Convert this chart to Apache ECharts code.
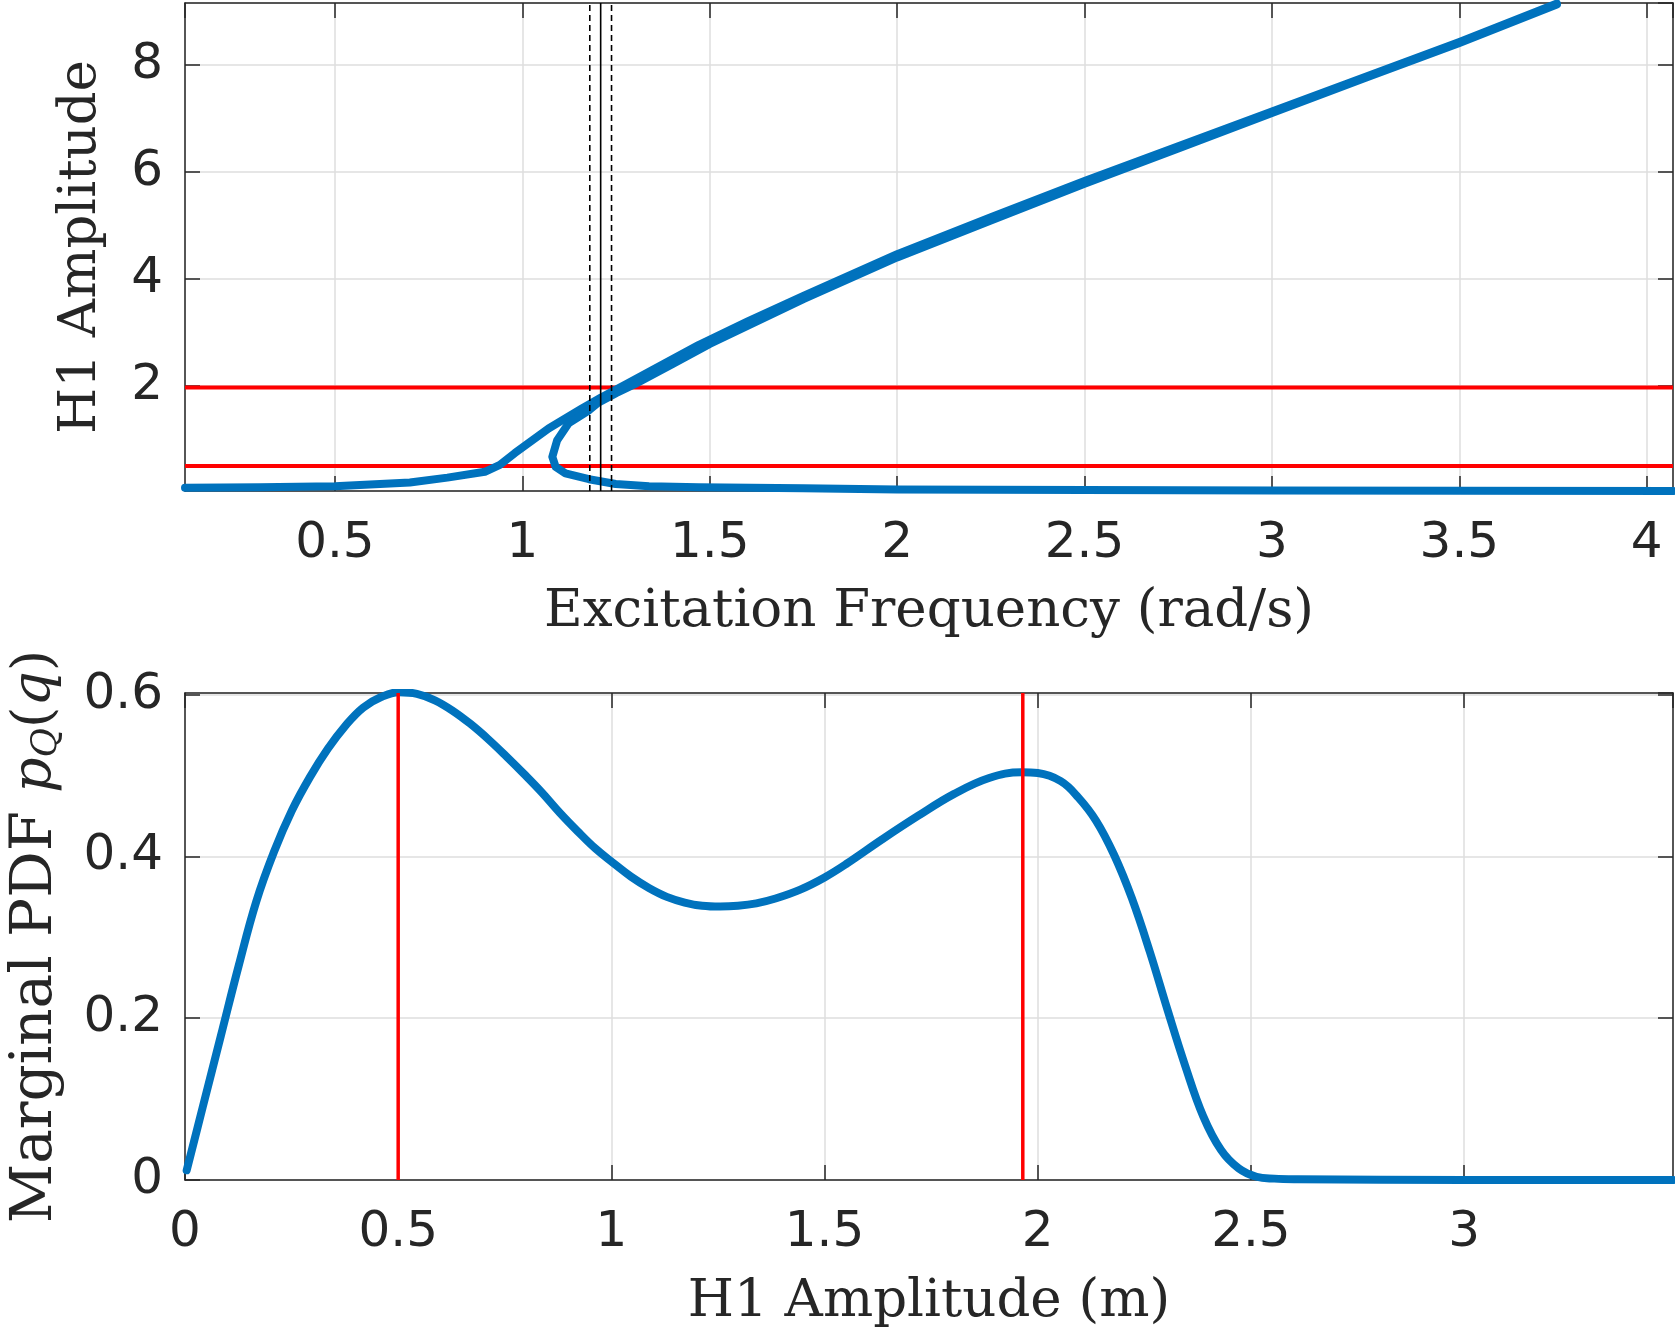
<!DOCTYPE html>
<html>
<head>
<meta charset="utf-8">
<script src="https://cdn.jsdelivr.net/npm/echarts@6/dist/echarts.min.js"></script>
<style>
html,body{margin:0;padding:0;background:#fff;}
#chart{width:1675px;height:1333px;}
</style>
</head>
<body>
<div id="chart"></div>
<script>
// ---- Top panel: frequency response (H1 amplitude vs excitation frequency)
const upperFreq = [0.10, 0.30, 0.50, 0.70, 0.80, 0.90, 0.94, 0.98, 1.07, 1.16, 1.21, 1.28, 1.38, 1.47, 1.60, 1.75, 2.00, 2.25, 2.50, 2.75, 3.00, 3.25, 3.50, 3.76];
const upperAmp  = [0.09, 0.10, 0.12, 0.19, 0.28, 0.39, 0.52, 0.74, 1.20, 1.58, 1.78, 2.04, 2.42, 2.76, 3.20, 3.68, 4.46, 5.15, 5.83, 6.48, 7.13, 7.78, 8.43, 9.15];
const returnFreq = [3.76, 3.50, 3.25, 3.00, 2.75, 2.50, 2.25, 2.00, 1.75, 1.50, 1.40, 1.30, 1.25, 1.20, 1.178, 1.124, 1.093, 1.080, 1.089, 1.115, 1.178, 1.249, 1.338, 1.47, 1.75, 2.00, 2.50, 3.00, 3.50, 4.07];
const returnAmp  = [9.13, 8.41, 7.76, 7.10, 6.44, 5.78, 5.09, 4.40, 3.62, 2.78, 2.40, 2.03, 1.86, 1.67, 1.54, 1.30, 0.98, 0.67, 0.48, 0.36, 0.25, 0.16, 0.12, 0.10, 0.08, 0.06, 0.05, 0.04, 0.035, 0.03];
const amplitudeLevels = [0.5, 1.965];          // red horizontal lines
const freqMarkersDashed = [1.18, 1.238];       // black dashed verticals
const freqMarkerSolid = [1.209];               // black solid vertical
const topXRange = [0.1, 4.07];
const topYRange = [0.03, 9.16];

// ---- Bottom panel: marginal PDF of H1 amplitude
const ampQ = [0.004, 0.042, 0.084, 0.126, 0.167, 0.209, 0.251, 0.293, 0.335, 0.377, 0.418, 0.460, 0.502, 0.544, 0.586, 0.628, 0.669, 0.711, 0.753, 0.795, 0.837, 0.879, 0.921, 0.962, 1.004, 1.046, 1.088, 1.130, 1.172, 1.213, 1.255, 1.297, 1.340, 1.385, 1.443, 1.500, 1.552, 1.635, 1.719, 1.803, 1.886, 1.962, 2.000, 2.054, 2.095, 2.137, 2.179, 2.221, 2.263, 2.304, 2.346, 2.388, 2.430, 2.471, 2.513, 2.555, 2.610, 3.000, 3.490];
const pdfQ = [0.012, 0.091, 0.178, 0.265, 0.344, 0.406, 0.457, 0.498, 0.533, 0.562, 0.584, 0.597, 0.603, 0.601, 0.593, 0.580, 0.564, 0.545, 0.524, 0.502, 0.479, 0.454, 0.431, 0.410, 0.392, 0.375, 0.361, 0.350, 0.343, 0.339, 0.338, 0.339, 0.342, 0.348, 0.359, 0.374, 0.391, 0.421, 0.450, 0.477, 0.497, 0.504, 0.503, 0.493, 0.473, 0.444, 0.402, 0.348, 0.282, 0.211, 0.141, 0.079, 0.037, 0.0145, 0.004, 0.0017, 0.001, 0.0, 0.0];
const peakAmps = [0.5, 1.965];                 // red vertical lines
const botXRange = [0, 3.49];
const botYRange = [0, 0.602];

const AX = '#262626', GRID = '#dedede', BLUE = '#0072BD', RED = '#FF0000';
const zip = (a, b) => a.map((v, i) => [v, b[i]]);

function baseAxis(o) {
  return Object.assign({
    type: 'value',
    axisLine: { show: true, onZero: false, lineStyle: { color: AX, width: 1.5 } },
    axisTick: { show: true, inside: true, length: 15, lineStyle: { color: AX, width: 1.5 } },
    splitLine: { show: false },
    axisLabel: { show: false },
  }, o);
}
const labelStyle = { show: true, fontFamily: 'DejaVu Sans', fontSize: 50, color: AX, showMinLabel: false, showMaxLabel: false };
const nameStyle = { fontFamily: 'DejaVu Serif', fontSize: 53, color: AX };

const chart = echarts.init(document.getElementById('chart'), null, { renderer: 'canvas' });

const series = [];
// top panel
amplitudeLevels.forEach(l => series.push({
  type: 'line', xAxisIndex: 0, yAxisIndex: 0, data: [[topXRange[0], l], [topXRange[1], l]],
  showSymbol: false, lineStyle: { color: RED, width: 4 }, z: 2, silent: true
}));
series.push({
  type: 'line', xAxisIndex: 0, yAxisIndex: 0, data: zip(upperFreq, upperAmp),
  showSymbol: false, lineStyle: { color: BLUE, width: 8, cap: 'round', join: 'round' }, z: 3, clip: true
});
series.push({
  type: 'line', xAxisIndex: 0, yAxisIndex: 0, data: zip(returnFreq, returnAmp),
  showSymbol: false, lineStyle: { color: BLUE, width: 8, cap: 'round', join: 'round' }, z: 3, clip: true
});
freqMarkersDashed.forEach(f => series.push({
  type: 'line', xAxisIndex: 0, yAxisIndex: 0, data: [[f, topYRange[0]], [f, topYRange[1]]],
  showSymbol: false, lineStyle: { color: '#000', width: 1.6, type: [6, 4] }, z: 4, silent: true
}));
freqMarkerSolid.forEach(f => series.push({
  type: 'line', xAxisIndex: 0, yAxisIndex: 0, data: [[f, topYRange[0]], [f, topYRange[1]]],
  showSymbol: false, lineStyle: { color: '#000', width: 1.6 }, z: 4, silent: true
}));
// bottom panel
series.push({
  type: 'line', xAxisIndex: 2, yAxisIndex: 2, data: zip(ampQ, pdfQ), smooth: 0.4,
  showSymbol: false, lineStyle: { color: BLUE, width: 8, cap: 'round', join: 'round' }, z: 3, clip: true
});
peakAmps.forEach(a => series.push({
  type: 'line', xAxisIndex: 2, yAxisIndex: 2, data: [[a, botYRange[0]], [a, botYRange[1]]],
  showSymbol: false, lineStyle: { color: RED, width: 3.5 }, z: 4, silent: true
}));

chart.setOption({
  animation: false,
  backgroundColor: '#fff',
  grid: [
    { left: 185, right: 2, top: 3, height: 488, containLabel: false, outerBoundsMode: 'none' },
    { left: 185, right: 2, top: 693, height: 487, containLabel: false, outerBoundsMode: 'none' }
  ],
  xAxis: [
    baseAxis({ gridIndex: 0, position: 'bottom', min: topXRange[0], max: topXRange[1], splitNumber: 8,
      axisLabel: Object.assign({ margin: 28 }, labelStyle),
      splitLine: { show: true, lineStyle: { color: GRID, width: 1.5 } },
      name: 'Excitation Frequency (rad/s)', nameLocation: 'middle', nameGap: 95, nameTextStyle: nameStyle }),
    baseAxis({ gridIndex: 0, position: 'top', min: topXRange[0], max: topXRange[1], splitNumber: 8 }),
    baseAxis({ gridIndex: 1, position: 'bottom', min: botXRange[0], max: botXRange[1], interval: 0.5,
      axisLabel: Object.assign({}, labelStyle, { margin: 28, showMinLabel: true }),
      splitLine: { show: true, lineStyle: { color: GRID, width: 1.5 } },
      name: 'H1 Amplitude (m)', nameLocation: 'middle', nameGap: 96, nameTextStyle: nameStyle }),
    baseAxis({ gridIndex: 1, position: 'top', min: botXRange[0], max: botXRange[1], interval: 0.5 })
  ],
  yAxis: [
    baseAxis({ gridIndex: 0, position: 'left', min: topYRange[0], max: topYRange[1], splitNumber: 5,
      axisLabel: Object.assign({ margin: 22 }, labelStyle),
      splitLine: { show: true, lineStyle: { color: GRID, width: 1.5 } },
      name: 'H1 Amplitude', nameLocation: 'middle', nameGap: 77, nameTextStyle: nameStyle }),
    baseAxis({ gridIndex: 0, position: 'right', min: topYRange[0], max: topYRange[1], splitNumber: 5 }),
    baseAxis({ gridIndex: 1, position: 'left', min: botYRange[0], max: botYRange[1], interval: 0.2,
      axisLabel: Object.assign({}, labelStyle, { margin: 22, showMinLabel: true }),
      splitLine: { show: true, lineStyle: { color: GRID, width: 1.5 } },
      name: '{m|Marginal PDF }{i|p}{sub|Q}{n|(}{i|q}{n|)}', nameLocation: 'middle', nameGap: 120,
      nameTextStyle: Object.assign({}, nameStyle, {
        padding: [0, 0, 0, 0],
        rich: {
          m: { fontFamily: 'DejaVu Serif', fontSize: 58, color: AX },
          n: { fontFamily: 'DejaVu Serif', fontSize: 55, color: AX },
          i: { fontFamily: 'DejaVu Serif', fontStyle: 'italic', fontSize: 55, color: AX },
          sub: { fontFamily: 'DejaVu Serif', fontStyle: 'italic', fontSize: 36, color: AX, verticalAlign: 'bottom', lineHeight: 36 }
        }
      }) }),
    baseAxis({ gridIndex: 1, position: 'right', min: botYRange[0], max: botYRange[1], interval: 0.2 })
  ],
  series: series
});
</script>
</body>
</html>
